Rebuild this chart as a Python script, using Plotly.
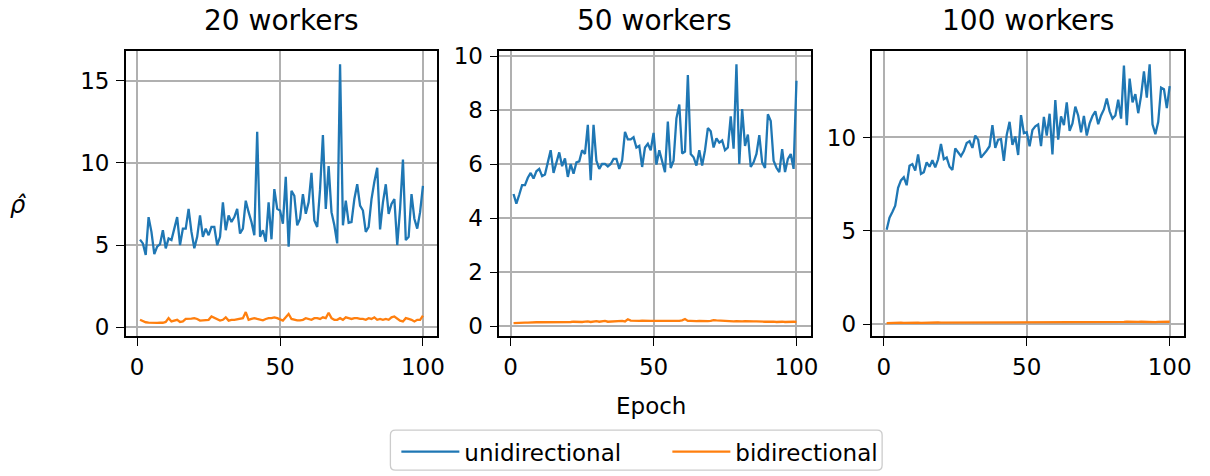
import plotly.graph_objects as go

epochs = list(range(1, 101))
titles = ["20 workers", "50 workers", "100 workers"]
yticks = [[0, 5, 10, 15], [0, 2, 4, 6, 8, 10], [0, 5, 10]]
xticks = [0, 50, 100]

uni_20 = [5.33,5.1,4.4,6.7,5.8,4.45,4.9,5.05,5.9,4.8,
          5.4,5.3,6.0,6.7,5.0,6.0,6.0,7.2,5.8,4.8,
          5.5,6.8,5.5,6.0,5.6,6.1,6.1,5.0,5.5,7.6,
          5.9,6.8,6.4,6.7,7.2,5.7,6.0,7.7,7.0,6.4,
          5.6,11.9,5.5,5.9,5.2,7.6,5.35,8.4,7.2,7.1,
          6.3,9.15,4.9,8.3,8.0,6.2,6.6,8.1,6.9,7.6,
          9.4,6.5,6.1,8.4,11.7,7.2,9.8,7.0,6.2,5.1,
          16.0,6.2,7.7,6.35,6.4,7.8,8.7,7.4,7.1,5.8,
          6.1,7.8,8.85,9.7,5.95,7.6,8.7,6.9,7.5,7.8,
          5.0,7.2,10.2,5.3,5.5,8.1,6.6,6.0,7.0,8.6]
bi_20 = [0.45,0.35,0.3,0.28,0.27,0.25,0.26,0.28,0.27,0.32,
         0.55,0.35,0.38,0.45,0.32,0.35,0.5,0.5,0.52,0.55,
         0.5,0.4,0.42,0.45,0.45,0.65,0.55,0.45,0.4,0.45,
         0.6,0.4,0.45,0.45,0.48,0.5,0.55,0.92,0.45,0.5,
         0.55,0.5,0.45,0.42,0.5,0.55,0.55,0.6,0.55,0.45,
         0.4,0.6,0.8,0.5,0.45,0.42,0.42,0.45,0.55,0.5,
         0.45,0.55,0.55,0.5,0.6,0.55,0.88,0.55,0.45,0.45,
         0.55,0.45,0.6,0.55,0.5,0.55,0.55,0.5,0.5,0.45,
         0.55,0.5,0.6,0.45,0.5,0.45,0.5,0.45,0.6,0.65,
         0.5,0.4,0.35,0.55,0.5,0.45,0.35,0.45,0.45,0.7]

uni_50 = [4.9,4.54,4.87,5.23,5.23,5.5,5.68,5.47,5.74,5.83,
          5.56,5.62,6.07,6.52,5.68,6.04,6.44,5.93,6.22,5.53,
          6.01,5.65,6.07,6.11,6.52,6.38,7.46,5.41,7.46,6.13,
          5.83,6.01,6.01,5.92,6.01,6.2,6.2,5.83,6.13,7.2,
          6.92,6.92,7.0,6.62,6.68,5.9,6.62,6.76,6.52,7.16,
          5.99,6.52,6.13,5.71,7.58,5.86,6.13,7.7,8.21,6.4,
          6.47,9.3,6.38,6.26,5.95,6.52,5.95,6.52,7.34,7.22,
          6.62,6.96,6.8,6.88,6.52,6.62,7.77,6.58,9.7,6.01,
          8.04,6.68,7.1,5.9,6.07,6.38,7.08,6.07,5.86,7.85,
          7.6,6.13,5.87,5.71,6.56,5.71,6.2,6.38,5.83,9.09]
bi_50 = [0.12,0.13,0.13,0.14,0.14,0.14,0.15,0.14,0.15,0.15,
         0.15,0.14,0.15,0.16,0.15,0.15,0.16,0.15,0.16,0.16,
         0.16,0.17,0.16,0.17,0.16,0.17,0.18,0.16,0.17,0.19,
         0.17,0.18,0.2,0.17,0.18,0.19,0.18,0.19,0.2,0.18,
         0.26,0.21,0.2,0.19,0.2,0.21,0.2,0.19,0.2,0.2,
         0.19,0.2,0.2,0.19,0.2,0.2,0.21,0.2,0.2,0.22,
         0.27,0.2,0.2,0.19,0.19,0.2,0.19,0.19,0.19,0.2,
         0.23,0.22,0.21,0.2,0.19,0.19,0.18,0.18,0.19,0.18,
         0.18,0.19,0.18,0.17,0.18,0.18,0.17,0.18,0.17,0.17,
         0.18,0.17,0.16,0.17,0.17,0.16,0.17,0.16,0.17,0.16]

uni_100 = [5.05,5.7,6.0,6.34,7.3,7.7,7.87,7.44,8.48,8.57,
           8.22,9.09,8.05,8.14,8.66,8.43,8.78,8.4,8.83,9.65,
           8.83,8.92,8.43,8.26,9.41,9.18,9.0,9.27,9.7,9.8,
           9.44,10.1,9.88,8.92,9.09,9.3,9.53,10.66,9.44,9.88,
           9.91,8.75,10.14,10.84,9.6,10.05,9.06,11.2,10.23,10.28,
           9.53,10.4,10.6,10.7,9.53,11.1,10.1,11.27,9.09,12.0,
           9.88,11.13,10.66,11.88,10.35,10.75,11.65,11.18,10.28,11.15,
           10.1,10.75,11.15,11.4,10.71,11.18,11.5,12.09,11.4,11.01,
           11.18,12.02,11.01,13.85,10.66,13.15,11.88,12.32,11.3,12.23,
           13.54,12.14,13.92,10.7,10.17,10.84,12.67,12.58,11.57,12.75]
bi_100 = [0.05,0.06,0.06,0.07,0.06,0.07,0.06,0.07,0.07,0.06,
          0.07,0.07,0.06,0.07,0.07,0.08,0.07,0.07,0.08,0.07,
          0.07,0.08,0.08,0.07,0.08,0.08,0.08,0.07,0.08,0.08,
          0.09,0.08,0.08,0.09,0.08,0.08,0.09,0.08,0.09,0.09,
          0.08,0.09,0.09,0.08,0.09,0.09,0.1,0.09,0.09,0.09,
          0.1,0.09,0.09,0.1,0.09,0.1,0.1,0.09,0.1,0.11,
          0.1,0.09,0.1,0.1,0.11,0.1,0.1,0.11,0.1,0.1,
          0.11,0.1,0.11,0.1,0.11,0.11,0.1,0.11,0.11,0.1,
          0.11,0.1,0.11,0.11,0.12,0.11,0.1,0.11,0.11,0.12,
          0.11,0.11,0.12,0.11,0.1,0.11,0.12,0.11,0.12,0.12]

uni = [uni_20, uni_50, uni_100]
bi = [bi_20, bi_50, bi_100]

BLUE = "#1f77b4"
ORANGE = "#ff7f0e"
FONT = "DejaVu Sans"
W, H = 1210, 476

x_dom = [(126.7 / W, 440 / W), (502.7 / W, 816 / W), (878.3 / W, 1191.7 / W)]
y_dom = ((H - 336.5) / H, (H - 44.5) / H)

fig = go.Figure()
for i in range(3):
    sfx = "" if i == 0 else str(i + 1)
    fig.add_trace(go.Scatter(x=epochs, y=uni[i], mode="lines", name="unidirectional",
                             line=dict(color=BLUE, width=2.3), showlegend=(i == 0),
                             xaxis="x" + sfx, yaxis="y" + sfx))
    fig.add_trace(go.Scatter(x=epochs, y=bi[i], mode="lines", name="bidirectional",
                             line=dict(color=ORANGE, width=2.3), showlegend=(i == 0),
                             xaxis="x" + sfx, yaxis="y" + sfx))

axis_common = dict(showgrid=True, gridcolor="#b0b0b0", gridwidth=1.5,
                   showline=True, linecolor="black", linewidth=1.6, mirror=True,
                   ticks="outside", ticklen=8, tickwidth=1.4, tickcolor="black",
                   tickfont=dict(family=FONT, size=23, color="black"),
                   zeroline=False, ticklabelstandoff=2)

layout = dict(width=W, height=H, margin=dict(l=0, r=0, t=0, b=0),
              plot_bgcolor="white", paper_bgcolor="white",
              font=dict(family=FONT, color="black"))
for i in range(3):
    sfx = "" if i == 0 else str(i + 1)
    lo = min(min(uni[i]), min(bi[i]))
    hi = max(max(uni[i]), max(bi[i]))
    pad = 0.05 * (hi - lo)
    xpad = 0.05 * (epochs[-1] - epochs[0])
    layout["xaxis" + sfx] = dict(domain=list(x_dom[i]), anchor="y" + sfx,
                                 range=[epochs[0] - xpad, epochs[-1] + xpad],
                                 tickvals=xticks, **axis_common)
    layout["yaxis" + sfx] = dict(domain=list(y_dom), anchor="x" + sfx,
                                 range=[lo - pad, hi + pad],
                                 tickvals=yticks[i], **axis_common)
fig.update_layout(**layout)

annotations = []
for i in range(3):
    annotations.append(dict(text=titles[i], x=(x_dom[i][0] + x_dom[i][1]) / 2, y=1 - 13 / H,
                            xref="paper", yref="paper", xanchor="center", yanchor="middle",
                            showarrow=False, font=dict(family=FONT, size=28, color="black")))
annotations.append(dict(text="Epoch", x=655.5 / W, y=1 - 408 / H, xref="paper", yref="paper",
                        xanchor="center", yanchor="middle", showarrow=False,
                        font=dict(family=FONT, size=23, color="black")))
annotations.append(dict(text="<i>\u03c1\u0302</i>", x=18 / W, y=1 - 202 / H, xref="paper", yref="paper",
                        xanchor="center", yanchor="middle", showarrow=False,
                        font=dict(family=FONT, size=24, color="black")))
fig.update_layout(annotations=annotations)

# legend frame (rounded box like the reference)
lx0, lx1, ly0, ly1, r = 393, 888, 433, 474, 5
fig.add_shape(type="path", xref="paper", yref="paper",
              path=(f"M {(lx0 + r) / W},{1 - ly0 / H} L {(lx1 - r) / W},{1 - ly0 / H} "
                    f"Q {lx1 / W},{1 - ly0 / H} {lx1 / W},{1 - (ly0 + r) / H} "
                    f"L {lx1 / W},{1 - (ly1 - r) / H} Q {lx1 / W},{1 - ly1 / H} {(lx1 - r) / W},{1 - ly1 / H} "
                    f"L {(lx0 + r) / W},{1 - ly1 / H} Q {lx0 / W},{1 - ly1 / H} {lx0 / W},{1 - (ly1 - r) / H} "
                    f"L {lx0 / W},{1 - (ly0 + r) / H} Q {lx0 / W},{1 - ly0 / H} {(lx0 + r) / W},{1 - ly0 / H} Z"),
              line=dict(color="#cccccc", width=1.3), fillcolor="rgba(0,0,0,0)", layer="above")

fig.update_layout(legend=dict(orientation="h", x=399 / W, xanchor="left",
                              y=1 - 433 / H, yanchor="top",
                              borderwidth=0, bgcolor="rgba(0,0,0,0)",
                              font=dict(family=FONT, size=23, color="black"),
                              itemwidth=58, entrywidth=198, entrywidthmode="pixels",
                              tracegroupgap=0))

fig.write_html("out.html")
